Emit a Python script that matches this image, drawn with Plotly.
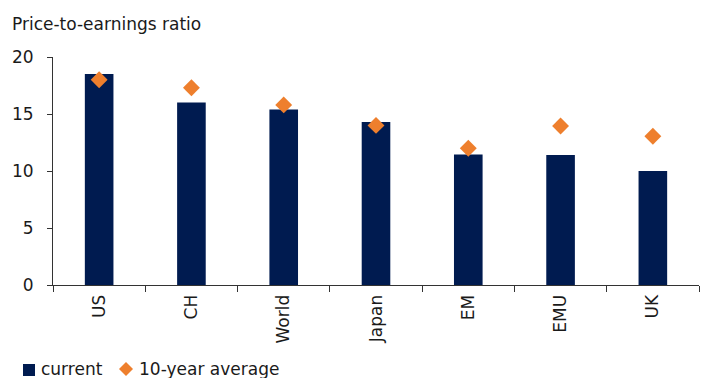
import plotly.graph_objects as go

categories = ["US", "CH", "World", "Japan", "EM", "EMU", "UK"]
current = [18.5, 16.0, 15.4, 14.3, 11.45, 11.4, 10.0]
avg10 = [18.0, 17.3, 15.8, 14.0, 12.0, 13.95, 13.05]
y_ticks = [0, 5, 10, 15, 20]

NAVY = "#001B50"
ORANGE = "#EE7F2D"
FONT = "DejaVu Sans, Verdana, sans-serif"
FS = 17

W, H = 702, 378
L, R, T, B = 53, 3, 57, 93
PW, PH = W - L - R, H - T - B


def px(x):
    return (x - L) / PW


def py(y):
    return (H - B - y) / PH


fig = go.Figure()
fig.add_trace(go.Bar(
    x=categories, y=current, name="current",
    marker=dict(color=NAVY, line=dict(width=0)),
    width=0.31, showlegend=False,
))
fig.add_trace(go.Scatter(
    x=categories, y=avg10, name="10-year average", mode="markers",
    marker=dict(symbol="diamond", color=ORANGE, size=13, line=dict(width=0)),
    showlegend=False,
))

# legend (drawn manually for tighter symbol/text spacing)
shapes = [
    dict(type="rect", xref="paper", yref="paper",
         x0=px(23), x1=px(35), y0=py(376), y1=py(364),
         fillcolor=NAVY, line=dict(width=0)),
    dict(type="path", xref="paper", yref="paper",
         path=f"M {px(126)},{py(362)} L {px(133)},{py(369)} L {px(126)},{py(376)} L {px(119)},{py(369)} Z",
         fillcolor=ORANGE, line=dict(width=0)),
]
annotations = [
    dict(text="Price-to-earnings ratio", xref="paper", yref="paper",
         x=px(10), y=py(24), xanchor="left", yanchor="middle",
         showarrow=False, font=dict(size=FS, family=FONT)),
    dict(text="current", xref="paper", yref="paper",
         x=px(39), y=py(369), xanchor="left", yanchor="middle",
         showarrow=False, font=dict(size=FS, family=FONT)),
    dict(text="10-year average", xref="paper", yref="paper",
         x=px(137), y=py(369), xanchor="left", yanchor="middle",
         showarrow=False, font=dict(size=FS, family=FONT)),
]

fig.update_layout(
    width=W, height=H,
    margin=dict(l=L, r=R, t=T, b=B, autoexpand=False),
    paper_bgcolor="white", plot_bgcolor="white",
    font=dict(family=FONT, size=FS, color="#1a1a1a"),
    showlegend=False,
    shapes=shapes,
    annotations=annotations,
)
fig.update_xaxes(
    showline=True, linecolor="#333333", linewidth=1,
    ticks="outside", ticklen=6, tickcolor="#333333", tickson="boundaries",
    tickangle=-90, showgrid=False, automargin=False,
    ticklabelstandoff=2,
    tickfont=dict(size=FS, family=FONT),
)
fig.update_yaxes(
    range=[0, 20], tickvals=y_ticks,
    showline=True, linecolor="#333333", linewidth=1,
    ticks="outside", ticklen=5, tickcolor="#333333",
    showgrid=False, zeroline=False, automargin=False,
    ticklabelstandoff=10,
    tickfont=dict(size=FS, family=FONT),
)

fig.write_html("out.html")
